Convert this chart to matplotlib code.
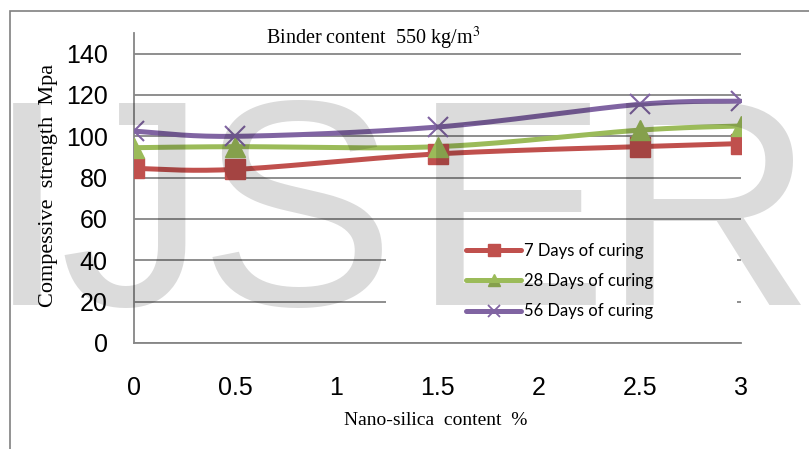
import numpy as np
import matplotlib
matplotlib.use('Agg')
import matplotlib.pyplot as plt
from matplotlib.patches import Rectangle
from matplotlib import font_manager

# ---- data ----
nano_silica = [0, 0.5, 1.5, 2.5, 3]
days7 = [84.5, 84, 91.5, 95, 96.5]
days28 = [94.5, 95, 95, 103, 105]
days56 = [102.5, 100, 104.5, 115.5, 117]
series_labels = ['7 Days of curing', '28 Days of curing', '56 Days of curing']
x_ticks = [0, 0.5, 1, 1.5, 2, 2.5, 3]
y_ticks = [0, 20, 40, 60, 80, 100, 120, 140]
watermark_letters = ['I', 'J', 'S', 'E', 'R']

names = {f.name for f in font_manager.fontManager.ttflist}
tick_family = 'Liberation Sans Narrow' if 'Liberation Sans Narrow' in names else 'Liberation Sans'


def smooth(x, y, n=40):
    P = np.column_stack([x, y]).astype(float)
    out = []
    m = len(P)
    for i in range(m - 1):
        p0 = P[i - 1] if i > 0 else P[i]
        p1 = P[i]
        p2 = P[i + 1]
        p3 = P[i + 2] if i + 2 < m else P[i + 1]
        c1 = p1 + (p2 - p0) / 6.0
        c2 = p2 - (p3 - p1) / 6.0
        t = np.linspace(0, 1, n)[:, None]
        seg = ((1 - t) ** 3) * p1 + 3 * ((1 - t) ** 2) * t * c1 + 3 * (1 - t) * t ** 2 * c2 + t ** 3 * p2
        out.append(seg if i == 0 else seg[1:])
    s = np.vstack(out)
    return s[:, 0], s[:, 1]


W, H = 809, 449
fig = plt.figure(figsize=(W / 100, H / 100), dpi=100)
fig.patch.set_facecolor('white')

ax = fig.add_axes([134 / W, 1 - 343 / H, 607 / W, 310 / H])
ax.set_xlim(0, 3)
ax.set_ylim(0, 150)
ax.set_xticks(x_ticks)
ax.set_xticklabels([('%g' % v) for v in x_ticks], fontfamily=tick_family, fontsize=18)
ax.set_yticks(y_ticks)
ax.set_yticklabels([str(v) for v in y_ticks], fontfamily=tick_family, fontsize=18)
ax.tick_params(length=0, colors='black')
ax.tick_params(axis='x', pad=24)
ax.tick_params(axis='y', pad=19)

for sp in ['top', 'right']:
    ax.spines[sp].set_visible(False)
for sp in ['left', 'bottom']:
    ax.spines[sp].set_color('#868686')
    ax.spines[sp].set_linewidth(1.3)
ax.yaxis.grid(True, color='#868686', linewidth=1.3)
ax.set_axisbelow(True)

# white legend background
ax.add_patch(Rectangle((0.415, 0.045), 0.578, 0.33, transform=ax.transAxes,
                       facecolor='white', edgecolor='none', zorder=1.5))

colors = ['#C0504D', '#9BBB59', '#8064A2']
markers = ['s', '^', 'x']
handles = []
for ys, c, mk, lab in zip([days7, days28, days56], colors, markers, series_labels):
    sx, sy = smooth(nano_silica, ys)
    ax.plot(sx, sy, color=c, lw=3.6, solid_capstyle='round', zorder=3)
    if mk == 'x':
        ax.plot(nano_silica, ys, ls='none', marker=mk, ms=14, mew=1.5, color=c, zorder=4)
    else:
        ax.plot(nano_silica, ys, ls='none', marker=mk, ms=14, mfc=c, mec=c, zorder=4)
    h, = ax.plot([], [], color=c, lw=3.6, marker=mk, ms=8 if mk != 'x' else 9,
                 mew=1.3 if mk == 'x' else 1, mfc=c, mec=c, solid_capstyle='round', label=lab)
    handles.append(h)

leg = ax.legend(handles=handles, loc='upper left',
                bbox_to_anchor=((466 - 134) / 607, (343 - 243) / 310),
                frameon=False, prop={'family': 'Lato', 'size': 12},
                handlelength=3.3, handletextpad=0.15, labelspacing=0.85,
                borderpad=0, borderaxespad=0)
leg.set_zorder(5)

# title, axis labels
fig.text(373 / W, 1 - 44 / H, 'Binder content  550 kg/m$^3$', ha='center', va='baseline',
         family='Liberation Serif', fontsize=14.5, math_fontfamily='stix')
fig.text(436 / W, 1 - 425 / H, 'Nano-silica  content  %', ha='center', va='baseline',
         family='Liberation Serif', fontsize=14)
fig.text(49 / W, 1 - 185 / H, 'Compessive  strength  Mpa', ha='center', va='center',
         rotation=90, family='Liberation Serif', fontsize=16)

# figure border
fig.patches.append(Rectangle((10 / W, -0.2), 1.5, 1 - 11 / H + 0.2, transform=fig.transFigure,
                             fill=False, edgecolor='#808080', lw=1.2))

# watermark
centers = [27, 133, 297, 510, 708]
for letter, cx in zip(watermark_letters, centers):
    fig.text(cx / W, 1 - 305 / H, letter, ha='center', va='baseline',
             family='Liberation Sans', fontsize=212, color='black', alpha=0.14, zorder=20)

fig.savefig('out.png', dpi=100)
